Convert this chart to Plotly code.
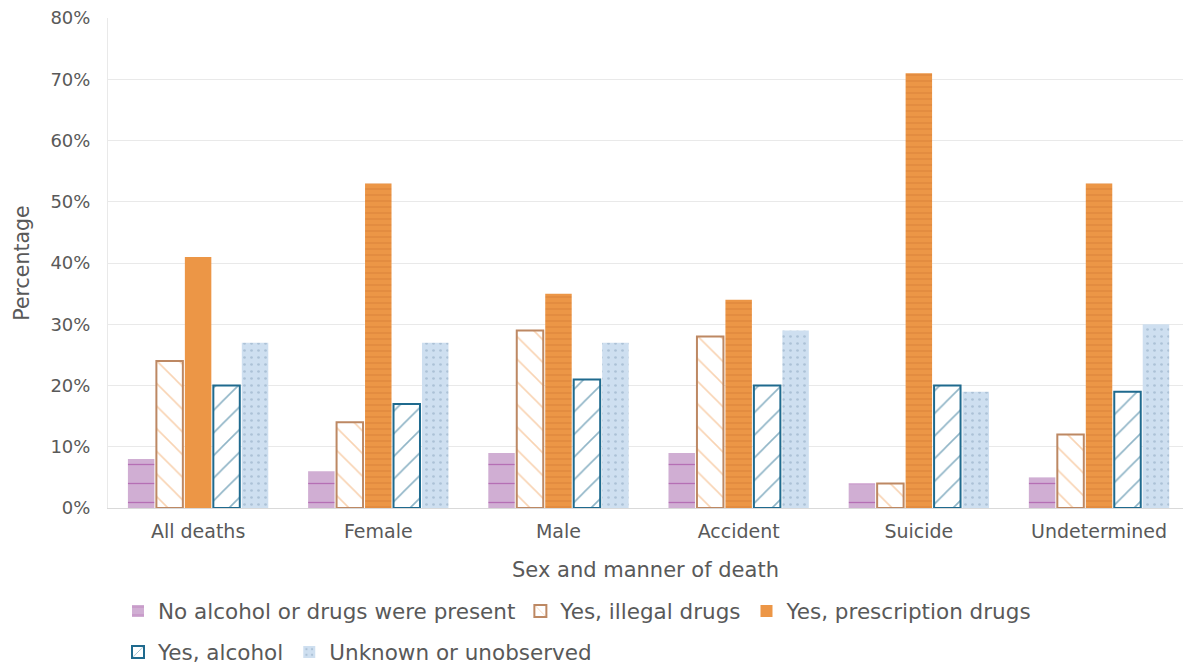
import plotly.graph_objects as go

categories = ["All deaths", "Female", "Male", "Accident", "Suicide", "Undetermined"]
none_present = [8, 6, 9, 9, 4, 5]
illegal_drugs = [24, 14, 29, 28, 4, 12]
prescription_drugs = [41, 53, 35, 34, 71, 53]
alcohol = [20, 17, 21, 20, 20, 19]
unknown = [27, 27, 27, 29, 19, 30]
y_ticks = [0, 10, 20, 30, 40, 50, 60, 70, 80]
y_tick_labels = [f"{v}%" for v in y_ticks]

FONT = "'DejaVu Sans', 'Noto Sans', sans-serif"
TXT = "#595959"

fig = go.Figure()
fig.add_trace(go.Bar(
    x=categories, y=none_present, name="No alcohol or drugs were present",
    marker=dict(color="#d0aed3", line=dict(width=0),
                pattern=dict(shape="-", bgcolor="#d0aed3", fgcolor="#9a2f96", size=19, solidity=0.07)),
    legend="legend"))
fig.add_trace(go.Bar(
    x=categories, y=illegal_drugs, name="Yes, illegal drugs",
    marker=dict(color="white", line=dict(width=2, color="#bd8863"),
                pattern=dict(shape="\\", bgcolor="white", fgcolor="#f2a868", size=16, solidity=0.1)),
    legend="legend"))
fig.add_trace(go.Bar(
    x=categories, y=prescription_drugs, name="Yes, prescription drugs",
    marker=dict(color="#ec9646", line=dict(width=0),
                pattern=dict(shape=["", "-", "-", "-", "-", "-"], bgcolor="#ec9646",
                             fgcolor="#b95f25", size=6, solidity=0.18, fgopacity=0.35)),
    legend="legend"))
fig.add_trace(go.Bar(
    x=categories, y=alcohol, name="Yes, alcohol",
    marker=dict(color="white", line=dict(width=2, color="#1f6a8e"),
                pattern=dict(shape="/", bgcolor="white", fgcolor="#1f6a8e", size=16, solidity=0.1)),
    legend="legend2"))
fig.add_trace(go.Bar(
    x=categories, y=unknown, name="Unknown or unobserved",
    marker=dict(color="#cedff0", line=dict(width=0),
                pattern=dict(shape=".", bgcolor="#cedff0", fgcolor="#9fb5cc", size=7, solidity=0.12, fgopacity=0.7)),
    legend="legend2"))

fig.update_layout(
    width=1183, height=666,
    margin=dict(l=108, r=0, t=18, b=158),
    paper_bgcolor="white", plot_bgcolor="white",
    barmode="group", bargap=0.21, bargroupgap=0.07,
    font=dict(family=FONT, color=TXT, size=18),
    xaxis=dict(range=[-0.5, 5.466], showline=True, linecolor="#d9d9d9", linewidth=1,
               ticks="", tickfont=dict(size=19, color=TXT), automargin=False,
               ticklabelstandoff=6,
               title=dict(text="Sex and manner of death", font=dict(size=21, color=TXT), standoff=21)),
    yaxis=dict(range=[0, 80], tickvals=y_ticks, ticktext=y_tick_labels,
               showgrid=True, gridcolor="#e9e9e9", gridwidth=1, automargin=False,
               showline=True, linecolor="#e9e9e9", zeroline=False,
               tickfont=dict(size=18, color=TXT), ticklabelstandoff=13,
               title=dict(text="Percentage", font=dict(size=20.5, color=TXT), standoff=15)),
    legend=dict(orientation="h", x=0.0093, xanchor="left", yref="container", y=1 - 611 / 666,
                yanchor="middle", font=dict(size=21.5, color=TXT), traceorder="normal", itemwidth=30),
    legend2=dict(orientation="h", x=0.0093, xanchor="left", yref="container", y=1 - 652 / 666,
                 yanchor="middle", font=dict(size=21.5, color=TXT), traceorder="normal", itemwidth=30),
)

fig.write_html("out.html", config={"displayModeBar": False},
               post_script="document.body.style.margin='0';document.body.style.overflow='hidden';")
